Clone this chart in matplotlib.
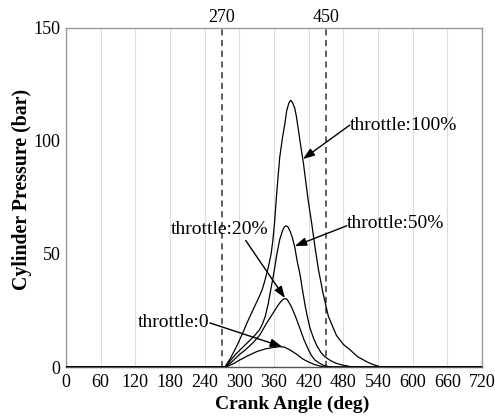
import matplotlib
matplotlib.use("Agg")
import matplotlib.pyplot as plt
import matplotlib.transforms as mtransforms

plt.rcParams['font.family'] = ['Liberation Serif', 'DejaVu Serif']

# Crank angle (deg) and cylinder pressure (bar)
x100 = [0, 275, 285, 295, 305, 315, 325, 335, 340, 345, 350, 355, 358, 361, 365, 370, 375, 379, 382, 386, 389, 392, 396, 399, 405, 411, 419, 425, 431, 437, 445, 454, 468, 480, 492, 505, 520, 530, 540, 545, 720]
y100 = [0, 0, 4, 9, 14.5, 20.5, 26, 31.5, 34.5, 39, 44, 50, 56, 64, 78, 93, 102, 108, 113.5, 117, 118, 117, 114.5, 110.5, 100, 90, 74, 64, 53, 43, 32.5, 22.5, 14, 10, 7.5, 4.5, 2.4, 1.2, 0.4, 0, 0]

x50 = [0, 276, 285, 295, 305, 315, 325, 335, 340, 345, 350, 355, 360, 365, 370, 375, 378, 381, 384, 388, 392, 396, 400, 405, 410, 414, 418, 422, 428, 434, 441, 448, 458, 468, 478, 488, 495, 720]
y50 = [0, 0, 3, 6, 8.5, 11, 13.5, 16.5, 19, 22.5, 28, 35, 42, 50, 56.5, 60.5, 62, 62.5, 62, 60, 57, 53, 47, 41, 33, 27, 22, 17.5, 13, 9.5, 6.5, 4.5, 2.8, 1.6, 0.9, 0.4, 0, 0]

x20 = [0, 277, 290, 300, 310, 324, 335, 347, 355, 360, 367, 372, 376, 380, 383, 386, 390, 397, 405, 412, 419, 425, 431, 437, 445, 452, 460, 720]
y20 = [0, 0, 3, 5.5, 7.5, 10.8, 14, 19.3, 22.5, 24.5, 27.3, 29, 30, 30.3, 29.8, 28.5, 26.7, 22.5, 17, 12, 8, 5, 3, 2, 0.8, 0.3, 0, 0]

x0 = [0, 277, 290, 300, 315, 330, 345, 360, 370, 378, 388, 400, 410, 420, 430, 440, 447, 720]
y0 = [0, 0, 1.5, 3, 5, 6.8, 8, 8.7, 9, 8.8, 7.5, 5.5, 3.5, 2.2, 1.1, 0.4, 0, 0]

xticks = list(range(0, 721, 60))
yticks = [0, 50, 100, 150]
markers = [270, 450]

labels = ["throttle:100%", "throttle:50%", "throttle:20%", "throttle:0"]

fig = plt.figure(figsize=(4.95, 4.17), dpi=100)
ax = fig.add_axes([66/495, 1-367/417, (482-66)/495, (367-28)/417])

for xs, ys in [(x100, y100), (x50, y50), (x20, y20), (x0, y0)]:
    ax.plot(xs, ys, color='black', lw=0.9, zorder=3)

for m in markers:
    ax.axvline(m, color='#333333', lw=1.1, ls=(0, (4, 3)), zorder=2)
    ax.text(m, 1.005, str(m), transform=mtransforms.blended_transform_factory(ax.transData, ax.transAxes),
            ha='center', va='bottom', fontsize=13)

ax.set_xlim(0, 720)
ax.set_ylim(0, 150)
ax.set_xticks(xticks)
ax.set_yticks(yticks)
ax.tick_params(length=0, labelsize=13)
ax.tick_params(axis='x', pad=5)
ax.tick_params(axis='y', pad=4)
ax.grid(axis='x', color='#dddddd', lw=0.8, zorder=0)
for s in ax.spines.values():
    s.set_color('#999999')
    s.set_linewidth(1.0)
ax.spines['bottom'].set_color('#555555')

ax.set_xlabel('Crank Angle (deg)', fontsize=14, fontweight='bold')
ax.set_ylabel('Cylinder Pressure (bar)', fontsize=14.3, fontweight='bold')
ax.xaxis.set_label_coords(0.5445, -0.085)
ax.yaxis.set_label_coords(-0.0825, 0.525)

aprops = dict(arrowstyle='-|>,head_length=0.7,head_width=0.25', color='black', lw=1.0,
              mutation_scale=10, shrinkA=0, shrinkB=0)

# throttle:100%
ax.text(491, 107, labels[0], ha='left', va='center', fontsize=14)
ax.annotate('', xy=(410, 92), xytext=(491, 107), arrowprops=aprops)
# throttle:50%
ax.text(486, 63.5, labels[1], ha='left', va='center', fontsize=14)
ax.annotate('', xy=(396, 53.5), xytext=(486, 62.5), arrowprops=aprops)
# throttle:20%
ax.text(266, 61, labels[2], ha='center', va='center', fontsize=14)
ax.annotate('', xy=(379, 30.5), xytext=(311, 56), arrowprops=aprops)
# throttle:0
ax.text(249, 19.5, labels[3], ha='right', va='center', fontsize=14)
ax.annotate('', xy=(374, 9), xytext=(249, 19.5), arrowprops=aprops)

fig.savefig('out.png', dpi=100)
